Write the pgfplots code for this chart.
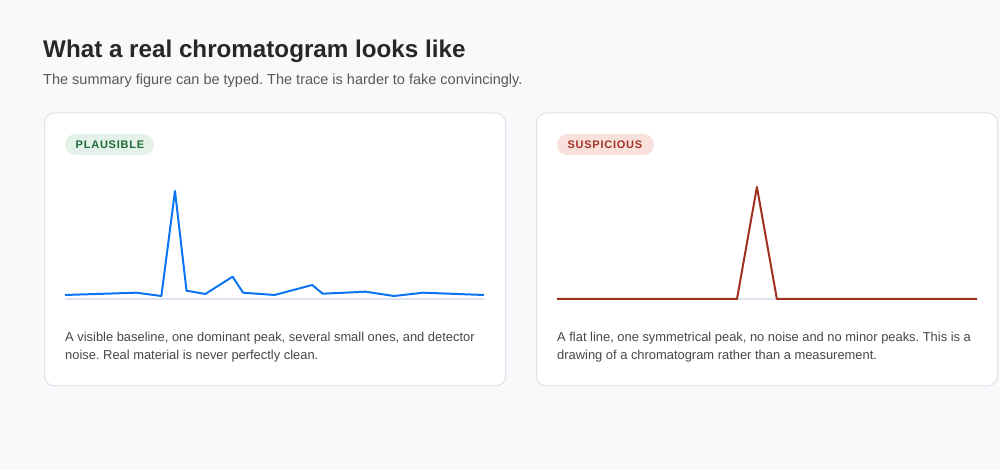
\documentclass[border=0pt]{standalone}
\usepackage{pgfplots}
\pgfplotsset{compat=1.18}
\usepackage{fontspec}
\setmainfont{Liberation Sans}
\newfontfamily\badgefont[LetterSpace=7]{Liberation Sans}
\frenchspacing

\definecolor{pagebg}{HTML}{F8F9FB}
\definecolor{cardline}{HTML}{DDE1E8}
\definecolor{titlecol}{HTML}{2A2527}
\definecolor{subcol}{HTML}{5B5759}
\definecolor{textcol}{HTML}{4A4646}
\definecolor{realblue}{HTML}{0B74F4}
\definecolor{fakered}{HTML}{A0301F}
\definecolor{basegray}{HTML}{DDE3EF}
\definecolor{okfill}{HTML}{E3F1E8}
\definecolor{oktext}{HTML}{1E6B3A}
\definecolor{badfill}{HTML}{F8E1DD}
\definecolor{badtext}{HTML}{A33323}

% retention time [min], detector signal
\pgfplotstableread{
t      s
0      4
3.4    6.3
4.6    3
5.25   108
5.8    8.3
6.7    5
8.0    22.3
8.5    6.3
10.0   4
11.8   14
12.3   5.3
14.35  7.3
15.7   3
17.1   6.3
20     4
}\realtrace

\pgfplotstableread{
t      s
0      0
8.57   0
9.52   112
10.47  0
20     0
}\faketrace

\pgfplotsset{trace/.style={
    scale only axis, width=419pt, height=120pt,
    xmin=0, xmax=20, ymin=0, ymax=120,
    hide axis, clip=false, anchor=south west}}

\begin{document}
\begin{tikzpicture}[x=1pt,y=1pt]
  \fill[pagebg] (0,0) rectangle (1000,470);

  \node[anchor=base west, inner sep=0, text=titlecol, font=\fontsize{24.2}{28}\selectfont\bfseries]
    at (43,412.3) {What a real chromatogram looks like};
  \node[anchor=base west, inner sep=0, text=subcol, font=\fontsize{14.5}{17}\selectfont]
    at (43,385.7) {The summary figure can be typed. The trace is harder to fake convincingly.};

  % cards
  \filldraw[fill=white, draw=cardline, line width=1pt, rounded corners=10pt]
    (44.5,84) rectangle (505.5,357);
  \filldraw[fill=white, draw=cardline, line width=1pt, rounded corners=10pt]
    (536.5,84) rectangle (997.5,357);

  % badges
  \fill[okfill, rounded corners=10.5pt] (65,315) rectangle (154,336);
  \node[anchor=base west, inner sep=0, text=oktext, font=\badgefont\fontsize{11}{13}\selectfont\bfseries]
    at (75.5,321.5) {PLAUSIBLE};
  \fill[badfill, rounded corners=10.5pt] (557,315) rectangle (654,336);
  \node[anchor=base west, inner sep=0, text=badtext, font=\badgefont\fontsize{11}{13}\selectfont\bfseries]
    at (567.3,321.5) {SUSPICIOUS};

  \begin{axis}[trace, at={(65pt,171pt)}]
    \addplot[basegray, line width=2pt] coordinates {(0,0) (20,0)};
    \addplot[realblue, line width=2pt, line join=round] table[x=t, y=s] {\realtrace};
  \end{axis}

  \begin{axis}[trace, at={(557pt,171pt)}, width=420pt]
    \addplot[basegray, line width=2pt] coordinates {(0,0) (20,0)};
    \addplot[fakered, line width=2pt, line join=round] table[x=t, y=s] {\faketrace};
  \end{axis}

  % captions
  \begin{scope}[every node/.style={anchor=base west, inner sep=0, text=textcol,
      font=\fontsize{12.9}{15}\selectfont}]
    \node at (65,128.3) {A visible baseline, one dominant peak, several small ones, and detector};
    \node at (65,110)   {noise. Real material is never perfectly clean.};
    \node at (557,128.3) {A flat line, one symmetrical peak, no noise and no minor peaks. This is a};
    \node at (557,110)   {drawing of a chromatogram rather than a measurement.};
  \end{scope}
\end{tikzpicture}
\end{document}
